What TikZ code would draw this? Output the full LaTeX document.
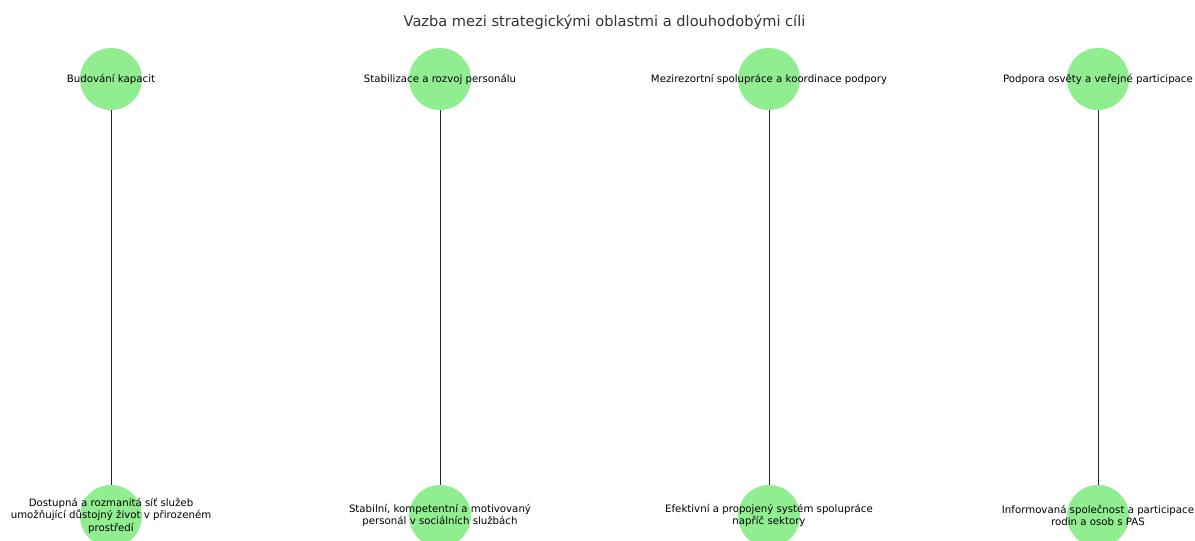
\documentclass[tikz,border=0pt]{standalone}
\usepackage{fontspec}
\setmainfont{DejaVu Sans}
\definecolor{nodegreen}{HTML}{90EE90}
\definecolor{titlegray}{HTML}{333333}
\tikzset{
  areanode/.style={circle, fill=nodegreen, draw=none, minimum size=62pt, inner sep=0pt},
  lbl/.style={align=center, font=\fontsize{10.2}{12.5}\selectfont, text=black, inner sep=0pt},
  link/.style={draw=black!85, line width=0.9pt}
}
\begin{document}
\begin{tikzpicture}[x=1pt,y=-1pt]
\useasboundingbox (0,0) rectangle (1195,541);
\node[font=\fontsize{14.6}{17}\selectfont, text=titlegray] (title) at (604.5,22.5) {Vazba mezi strategickými oblastmi a dlouhodobými cíli};
% circles
\node[areanode] (a1) at (111,79) {};
\node[areanode] (a2) at (440,79) {};
\node[areanode] (a3) at (769,79) {};
\node[areanode] (a4) at (1098,79) {};
\node[areanode] (g1) at (111,516) {};
\node[areanode] (g2) at (440,516) {};
\node[areanode] (g3) at (769,516) {};
\node[areanode] (g4) at (1098,516) {};
% edges
\draw[link] (a1) -- (g1);
\draw[link] (a2) -- (g2);
\draw[link] (a3) -- (g3);
\draw[link] (a4) -- (g4);
% labels
\node[lbl] (la1) at (111,79.5) {Budování kapacit};
\node[lbl] (la2) at (440,79.5) {Stabilizace a rozvoj personálu};
\node[lbl] (la3) at (769,79.5) {Mezirezortní spolupráce a koordinace podpory};
\node[lbl] (la4) at (1098,79.5) {Podpora osvěty a veřejné participace};
\node[lbl] (lg1) at (111,515.5) {Dostupná a rozmanitá síť služeb\\umožňující důstojný život v přirozeném\\prostředí};
\node[lbl] (lg2) at (440,515.5) {Stabilní, kompetentní a motivovaný\\personál v sociálních službách};
\node[lbl] (lg3) at (769,515.5) {Efektivní a propojený systém spolupráce\\napříč sektory};
\node[lbl] (lg4) at (1098,515.5) {Informovaná společnost a participace\\rodin a osob s PAS};
\end{tikzpicture}
\end{document}
